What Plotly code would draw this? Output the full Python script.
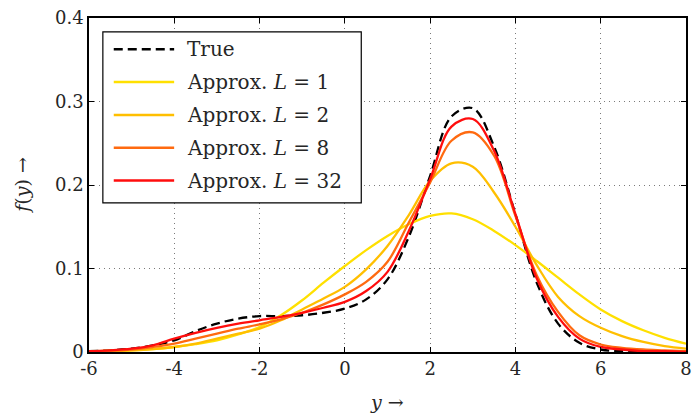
import plotly.graph_objects as go

# ---------------- data ----------------
x_vals = [-6.0, -5.5, -5.0, -4.5, -4.0, -3.5, -3.0, -2.5, -2.0, -1.5, -1.0, -0.5,
          0.0, 0.5, 1.0, 1.5, 2.0, 2.5, 3.0, 3.5, 4.0, 4.5, 5.0, 5.5, 6.0, 6.5,
          7.0, 7.5, 8.0]

true_vals = [0.001, 0.002, 0.004, 0.008, 0.014, 0.025, 0.034, 0.040, 0.043, 0.043,
             0.044, 0.047, 0.052, 0.063, 0.087, 0.138, 0.211, 0.282, 0.292, 0.246,
             0.165, 0.083, 0.034, 0.011, 0.003, 0.001, 0.000, 0.000, 0.000]

approx_L1 = [0.0007, 0.0012, 0.002, 0.0035, 0.006, 0.0095, 0.014, 0.021, 0.030, 0.044,
             0.062, 0.083, 0.103, 0.122, 0.139, 0.153, 0.163, 0.166, 0.159, 0.145,
             0.128, 0.109, 0.089, 0.069, 0.051, 0.037, 0.026, 0.017, 0.010]

approx_L2 = [0.0008, 0.0013, 0.002, 0.0035, 0.006, 0.010, 0.016, 0.022, 0.028, 0.038,
             0.051, 0.064, 0.078, 0.099, 0.127, 0.164, 0.205, 0.226, 0.222, 0.191,
             0.150, 0.104, 0.066, 0.043, 0.029, 0.019, 0.012, 0.007, 0.004]

approx_L8 = [0.001, 0.0015, 0.003, 0.006, 0.010, 0.016, 0.022, 0.028, 0.033, 0.039,
             0.047, 0.057, 0.069, 0.084, 0.108, 0.155, 0.203, 0.253, 0.263, 0.235,
             0.163, 0.092, 0.048, 0.020, 0.009, 0.005, 0.003, 0.002, 0.001]

approx_L32 = [0.001, 0.002, 0.004, 0.008, 0.016, 0.023, 0.029, 0.034, 0.038, 0.042,
              0.047, 0.053, 0.060, 0.073, 0.096, 0.145, 0.207, 0.270, 0.279, 0.241,
              0.165, 0.088, 0.042, 0.016, 0.006, 0.003, 0.001, 0.001, 0.000]

series_names = ["True", "Approx. <i>L</i> = 1", "Approx. <i>L</i> = 2",
                "Approx. <i>L</i> = 8", "Approx. <i>L</i> = 32"]
series_values = [true_vals, approx_L1, approx_L2, approx_L8, approx_L32]
series_colors = ["#000000", "#ffe000", "#ffbf00", "#ff6a10", "#ff0d0d"]
series_dash = ["9px,5px", "solid", "solid", "solid", "solid"]

x_ticks = [-6, -4, -2, 0, 2, 4, 6, 8]
x_tick_labels = ["-6", "-4", "-2", "0", "2", "4", "6", "8"]
y_ticks = [0, 0.1, 0.2, 0.3, 0.4]
y_tick_labels = ["0", "0.1", "0.2", "0.3", "0.4"]

FONT = "DejaVu Serif"
TEXT_COLOR = "#262626"

# plot-area pixel geometry
L, R, T, B = 89, 692, 16, 352
W, H = 699, 413


def px(x):
    return (x - L) / (R - L)


def py(y):
    return (B - y) / (B - T)


fig = go.Figure()
for name, vals, col, dash in zip(series_names, series_values, series_colors, series_dash):
    fig.add_trace(go.Scatter(
        x=x_vals, y=vals, mode="lines", name=name, showlegend=False,
        line=dict(color=col, width=2.3, dash=dash, shape="spline", smoothing=1.0),
        hoverinfo="skip",
    ))

axis_common = dict(
    showline=True, linecolor="black", linewidth=1.5, mirror="ticks",
    ticks="inside", ticklen=5, tickwidth=1, tickcolor="black",
    showgrid=True, gridcolor="#7a7a7a", gridwidth=1, griddash="1px,4px",
    zeroline=False,
    tickfont=dict(family=FONT, size=18, color=TEXT_COLOR),
)

fig.update_xaxes(range=[-6, 8], tickvals=x_ticks, ticktext=x_tick_labels, **axis_common)
fig.update_yaxes(range=[0, 0.4], tickvals=y_ticks, ticktext=y_tick_labels, **axis_common)

shapes = []
annotations = []

# legend box
shapes.append(dict(type="rect", xref="paper", yref="paper",
                   x0=px(103), x1=px(364), y0=py(202), y1=py(30),
                   line=dict(color="black", width=1.2), fillcolor="white", layer="above"))
rows = [47.5, 80.5, 113.5, 146.5, 179.5]
for name, col, dash, ry in zip(series_names, series_colors, series_dash, rows):
    shapes.append(dict(type="line", xref="paper", yref="paper",
                       x0=px(114), x1=px(175), y0=py(ry), y1=py(ry),
                       line=dict(color=col, width=2.5, dash=dash), layer="above"))
    annotations.append(dict(xref="paper", yref="paper", x=px(186), y=py(ry),
                            xanchor="left", yanchor="middle", showarrow=False,
                            text=name, font=dict(family=FONT, size=20, color=TEXT_COLOR)))

# axis titles
annotations.append(dict(xref="paper", yref="paper", x=px(390), y=py(402),
                        xanchor="center", yanchor="middle", showarrow=False,
                        text="<i>y</i> →", font=dict(family=FONT, size=19, color=TEXT_COLOR)))
annotations.append(dict(xref="paper", yref="paper", x=px(21), y=py(184),
                        xanchor="center", yanchor="middle", showarrow=False, textangle=-90,
                        text="<i>f</i>(<i>y</i>) →", font=dict(family=FONT, size=19, color=TEXT_COLOR)))

fig.update_layout(
    width=W, height=H,
    font=dict(family=FONT, color=TEXT_COLOR),
    margin=dict(l=L, r=W - R, t=T, b=H - B, pad=0),
    paper_bgcolor="white", plot_bgcolor="white",
    shapes=shapes, annotations=annotations,
    showlegend=False,
)

fig.write_html("out.html")
